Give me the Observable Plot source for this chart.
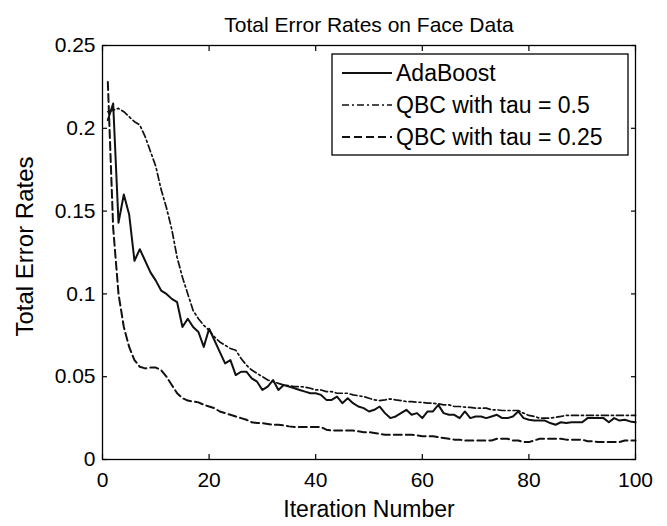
<!DOCTYPE html>
<html><head><meta charset="utf-8">
<script src="https://cdn.jsdelivr.net/npm/d3@7"></script>
<script src="https://cdn.jsdelivr.net/npm/@observablehq/plot@0.6"></script>
<style>
html,body{margin:0;padding:0;background:#fff;}
#wrap{position:relative;width:667px;height:526px;}
#wrap svg{display:block;}
#legend{position:absolute;left:0;top:0;pointer-events:none;}
</style></head><body><div id="wrap"></div>
<script>
const chartTitle = "Total Error Rates on Face Data";
const xLabel = "Iteration Number";
const yLabel = "Total Error Rates";
const xTicks = [0, 20, 40, 60, 80, 100];
const yTicks = [0, 0.05, 0.1, 0.15, 0.2, 0.25];
const yTickLabels = ["0", "0.05", "0.1", "0.15", "0.2", "0.25"];
const seriesNames = ["AdaBoost", "QBC with tau = 0.5", "QBC with tau = 0.25"];
const iterations = [1,2,3,4,5,6,7,8,9,10,11,12,13,14,15,16,17,18,19,20,21,22,23,24,25,26,27,28,29,30,31,32,33,34,35,36,37,38,39,40,41,42,43,44,45,46,47,48,49,50,51,52,53,54,55,56,57,58,59,60,61,62,63,64,65,66,67,68,69,70,71,72,73,74,75,76,77,78,79,80,81,82,83,84,85,86,87,88,89,90,91,92,93,94,95,96,97,98,99,100];
const adaboost = [0.205,0.215,0.143,0.16,0.148,0.12,0.127,0.12,0.113,0.108,
  0.102,0.1,0.097,0.095,0.08,0.085,0.08,0.077,0.068,0.079,
  0.072,0.065,0.058,0.06,0.051,0.053,0.053,0.049,0.047,0.042,
  0.044,0.048,0.042,0.045,0.044,0.043,0.042,0.041,0.04,0.04,
  0.039,0.036,0.036,0.038,0.034,0.037,0.034,0.032,0.031,0.029,
  0.03,0.032,0.028,0.025,0.026,0.028,0.03,0.027,0.028,0.025,
  0.029,0.029,0.033,0.028,0.027,0.027,0.025,0.029,0.025,0.026,
  0.026,0.025,0.026,0.027,0.025,0.025,0.026,0.029,0.025,0.024,
  0.0235,0.0235,0.0235,0.022,0.021,0.0225,0.022,0.0225,0.0225,0.0225,
  0.025,0.025,0.025,0.025,0.0225,0.025,0.0235,0.024,0.023,0.0225];
const qbcTau05 = [0.21,0.211,0.212,0.21,0.207,0.204,0.202,0.195,0.186,0.177,
  0.163,0.152,0.139,0.122,0.11,0.1,0.09,0.085,0.081,0.078,
  0.074,0.071,0.069,0.067,0.066,0.061,0.057,0.054,0.052,0.05,
  0.048,0.047,0.046,0.045,0.0445,0.044,0.044,0.0437,0.043,0.042,
  0.042,0.041,0.041,0.04,0.04,0.04,0.039,0.0385,0.038,0.037,
  0.036,0.0356,0.036,0.0366,0.036,0.0356,0.035,0.035,0.0346,0.0345,
  0.034,0.034,0.0336,0.033,0.033,0.032,0.032,0.0316,0.0315,0.031,
  0.031,0.031,0.03,0.03,0.0296,0.0296,0.0296,0.0296,0.028,0.0266,
  0.026,0.025,0.025,0.025,0.0255,0.026,0.0266,0.0266,0.0266,0.0266,
  0.0266,0.0266,0.0266,0.0266,0.0266,0.0266,0.0266,0.0266,0.0266,0.0266];
const qbcTau025 = [0.228,0.14,0.1,0.08,0.068,0.06,0.056,0.055,0.0555,0.0555,
  0.054,0.05,0.045,0.04,0.037,0.0356,0.035,0.0345,0.033,0.032,
  0.031,0.029,0.028,0.027,0.026,0.025,0.024,0.0225,0.022,0.022,
  0.0215,0.021,0.021,0.0206,0.02,0.0196,0.0196,0.0196,0.0196,0.0196,
  0.0196,0.018,0.0175,0.0175,0.0175,0.0175,0.0175,0.017,0.0165,0.0165,
  0.016,0.0155,0.015,0.015,0.015,0.015,0.015,0.015,0.0146,0.014,
  0.014,0.014,0.0135,0.013,0.0125,0.012,0.012,0.0115,0.0115,0.0115,
  0.0115,0.0115,0.0115,0.0125,0.0125,0.0125,0.0115,0.0115,0.0105,0.0105,
  0.0115,0.0125,0.0125,0.0125,0.0125,0.0125,0.012,0.012,0.012,0.012,
  0.011,0.011,0.0105,0.0105,0.0105,0.0105,0.0105,0.0115,0.0115,0.0115];
const seriesValues = [adaboost, qbcTau05, qbcTau025];

const dashes = [null, "7,3,2,3", "8,4"];
const widths = [2, 1.7, 2];
const FONT = "'Liberation Sans', Arial, Helvetica, sans-serif";

const rows = [];
seriesNames.forEach((name, s) => seriesValues[s].forEach((v, i) => rows.push({series: name, iter: iterations[i], rate: v})));

const lineMarks = seriesNames.map((name, s) =>
  Plot.line(rows.filter(d => d.series === name), {
    x: "iter", y: "rate", stroke: "#111", strokeWidth: widths[s],
    strokeDasharray: dashes[s], strokeLinejoin: "round"
  }));

const plot = Plot.plot({
  width: 667, height: 526,
  marginTop: 45, marginRight: 32, marginBottom: 67, marginLeft: 102,
  style: {fontFamily: FONT, background: "#fff", color: "#000", overflow: "visible"},
  x: {domain: [0, 100]},
  y: {domain: [0, 0.25]},
  marks: [
    ...lineMarks,
    Plot.axisX(xTicks, {anchor: "bottom", tickSize: 0, tickPadding: 13, fontSize: 21, label: null}),
    Plot.axisY(yTicks, {anchor: "left", tickSize: 0, tickPadding: 7, fontSize: 21, label: null,
      tickFormat: (d) => yTickLabels[yTicks.indexOf(d)]}),
    Plot.axisX(xTicks, {anchor: "bottom", tickSize: -5, tickFormat: () => "", label: null, strokeWidth: 1.2}),
    Plot.axisX(xTicks, {anchor: "top", tickSize: -5, tickFormat: () => "", label: null, strokeWidth: 1.2}),
    Plot.axisY(yTicks, {anchor: "left", tickSize: -5, tickFormat: () => "", label: null, strokeWidth: 1.2}),
    Plot.axisY(yTicks, {anchor: "right", tickSize: -5, tickFormat: () => "", label: null, strokeWidth: 1.2}),
    Plot.frame({stroke: "#000", strokeWidth: 1.3}),
    Plot.text([chartTitle], {frameAnchor: "top", dy: -28, fontSize: 21, fill: "#000"}),
    Plot.text([xLabel], {frameAnchor: "bottom", dy: 57, fontSize: 23, fill: "#000"}),
    Plot.text([yLabel], {frameAnchor: "left", textAnchor: "middle", dx: -77, dy: -6, rotate: -90, fontSize: 24, fill: "#000"})
  ]
});

const wrap = document.getElementById("wrap");
wrap.appendChild(plot);

// Legend (inside the axes, top-right, as in the reference)
const leg = d3.select(wrap).append("svg").attr("id", "legend")
  .attr("width", 667).attr("height", 526);
const box = {x: 332, y: 54, w: 296, h: 101};
leg.append("rect").attr("x", box.x).attr("y", box.y).attr("width", box.w).attr("height", box.h)
  .attr("fill", "#fff").attr("stroke", "#000").attr("stroke-width", 1.3);
seriesNames.forEach((name, s) => {
  const cy = box.y + 19 + s * 32;
  leg.append("line").attr("x1", box.x + 10).attr("x2", box.x + 60).attr("y1", cy).attr("y2", cy)
    .attr("stroke", "#111").attr("stroke-width", widths[s])
    .attr("stroke-dasharray", dashes[s]);
  leg.append("text").attr("x", box.x + 64).attr("y", cy).attr("dy", "0.35em")
    .attr("font-family", FONT).attr("font-size", 23).attr("fill", "#000").text(name);
});
</script>
</body></html>
